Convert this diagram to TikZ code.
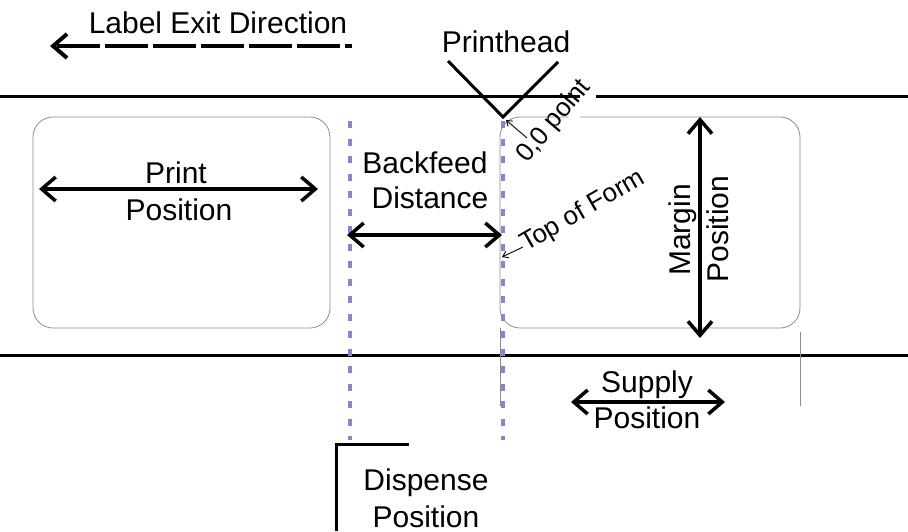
\documentclass[tikz,border=0pt]{standalone}
\usepackage{fontspec}
\setmainfont{Liberation Sans}
\usetikzlibrary{arrows.meta}
\definecolor{stopblue}{RGB}{140,132,200}

\begin{document}
\begin{tikzpicture}[x=1pt,y=-1pt]
\tikzset{
  web/.style={line width=3pt},
  labelbox/.style={draw=black!45, line width=0.8pt, rounded corners=20pt},
  guide/.style={draw=black!45, line width=0.8pt},
  stopline/.style={draw=stopblue, line width=4pt, dash pattern=on 7pt off 10.5pt},
  barb/.tip={Straight Barb[length=14pt, width=24pt]},
  dimarrow/.style={line width=3.5pt, barb-barb},
  exitarrow/.style={line width=4pt, dash pattern=on 43pt off 5pt, dash phase=36pt, -barb},
  pointer/.style={line width=0.9pt, -{Straight Barb[length=5pt, width=7pt]}},
  lbl/.style={font=\fontsize{30}{34}\selectfont, inner sep=0pt, anchor=base},
  smalllbl/.style={font=\fontsize{26}{30}\selectfont, inner sep=0pt, anchor=base west}
}
\useasboundingbox (0,0) rectangle (908,531);

% web edges and labels
\draw[web] (0,96) -- (580,96);
\draw[web] (596,96) -- (908,96);
\draw[web] (0,355) -- (908,355);
\draw[labelbox] (33,117) rectangle (330,328);
\draw[labelbox] (580,117) -- (800,117) -- (800,328) -- (500,328) -- (500,117) -- (568,117);
\draw[guide] (500,328) -- (500,406);
\draw[guide] (800,332) -- (800,406);

% stop lines
\draw[stopline] (350,121) -- (350,440);
\draw[stopline] (503,121) -- (503,440);

% printhead
\coordinate (head-l) at (448,61);
\coordinate (head-tip) at (503,117);
\coordinate (head-r) at (558,62);
\draw[web, line join=miter] (head-l) -- (head-tip) -- (head-r);
\node[lbl] (head) at (506,52) {Printhead};

% label exit direction
\coordinate (exit-e) at (352,46);
\coordinate (exit-w) at (50,46);
\draw[exitarrow] (exit-e) -- (exit-w);
\node[lbl] (exit) at (218,33) {Label Exit Direction};

% 0,0 point and top of form
\node[smalllbl, rotate=50] (zero) at (527,164) {0,0 point};
\coordinate (zero-tail) at (527,138);
\coordinate (zero-tip) at (506,120);
\draw[pointer] (zero-tail) -- (zero-tip);
\node[smalllbl, rotate=30] (tof) at (526,252) {Top of Form};
\coordinate (tof-tail) at (523,247);
\coordinate (tof-tip) at (502,257);
\draw[pointer] (tof-tail) -- (tof-tip);

% print position
\coordinate (print-l) at (39,189);
\coordinate (print-r) at (318,189);
\draw[dimarrow] (print-l) -- (print-r);
\node[lbl] (print1) at (176,183) {Print};
\node[lbl] (print2) at (179,220) {Position};

% backfeed distance
\coordinate (back-l) at (347,235);
\coordinate (back-r) at (502,235);
\draw[dimarrow] (back-l) -- (back-r);
\node[lbl] (back1) at (425,173) {Backfeed};
\node[lbl] (back2) at (430,208) {Distance};

% margin position
\coordinate (margin-t) at (700,117);
\coordinate (margin-b) at (700,338);
\draw[dimarrow] (margin-t) -- (margin-b);
\node[lbl, rotate=90] (margin1) at (690,230) {Margin};
\node[lbl, rotate=90] (margin2) at (728,229) {Position};

% supply position
\coordinate (supply-l) at (571,402);
\coordinate (supply-r) at (725,402);
\draw[dimarrow] (supply-l) -- (supply-r);
\node[lbl] (supply1) at (647,392) {Supply};
\node[lbl] (supply2) at (647,428) {Position};

% dispense position
\coordinate (disp-b) at (336,531);
\coordinate (disp-c) at (336,444);
\coordinate (disp-r) at (409,444);
\draw[web, line join=miter] (disp-b) -- (disp-c) -- (disp-r);
\node[lbl] (disp1) at (426,490) {Dispense};
\node[lbl] (disp2) at (426,527) {Position};

\end{tikzpicture}
\end{document}
